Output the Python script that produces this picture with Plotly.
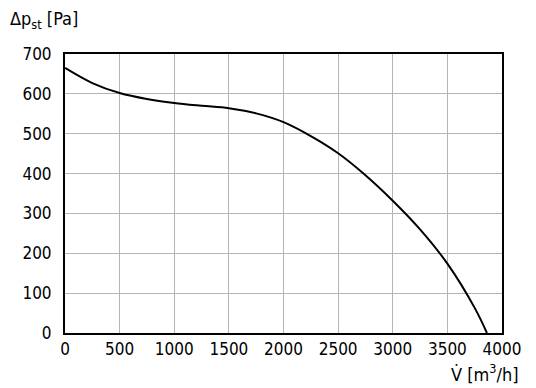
import plotly.graph_objects as go

flow = [0, 250, 500, 750, 1000, 1250, 1500, 1750, 2000, 2250, 2500, 2750, 3000, 3250, 3500, 3750, 3862]
pressure = [665, 627, 602, 587, 577, 570, 564, 551, 529, 494, 451, 396, 332, 260, 174, 63, 0]

x_ticks = [0, 500, 1000, 1500, 2000, 2500, 3000, 3500, 4000]
y_ticks = [0, 100, 200, 300, 400, 500, 600, 700]

FONT = "DejaVu Sans Condensed, Liberation Sans, Arial"
FS = 17

fig = go.Figure()
fig.add_trace(go.Scatter(x=flow, y=pressure, mode="lines",
                         line=dict(color="black", width=2, shape="spline", smoothing=1.0),
                         showlegend=False, hoverinfo="skip"))

fig.update_layout(
    width=528, height=380,
    margin=dict(l=57, r=34, t=46, b=55, autoexpand=False),
    paper_bgcolor="white", plot_bgcolor="white",
    font=dict(family=FONT, size=FS, color="black"),
    xaxis=dict(range=[0, 4000], tickvals=x_ticks, ticks="", showgrid=True,
               gridcolor="#b4b4b4", gridwidth=1, showline=True, linecolor="black",
               linewidth=2, mirror=True, zeroline=False, ticklabelstandoff=0,
               automargin=False),
    yaxis=dict(range=[0, 700], tickvals=y_ticks, ticks="", showgrid=True,
               gridcolor="#b4b4b4", gridwidth=1, showline=True, linecolor="black",
               linewidth=2, mirror=True, zeroline=False, ticklabelstandoff=8,
               automargin=False),
    annotations=[
        dict(text="Δp<sub>st</sub> [Pa]", xref="paper", yref="paper",
             x=-0.130, y=1.072, xanchor="left", yanchor="bottom", showarrow=False,
             font=dict(family=FONT, size=FS + 1)),
        dict(text="V̇ [m<sup>3</sup>/h]", xref="paper", yref="paper",
             x=1.043, y=-0.092, xanchor="right", yanchor="top", showarrow=False,
             font=dict(family=FONT, size=FS + 1)),
    ],
)

fig.write_html("out.html")
